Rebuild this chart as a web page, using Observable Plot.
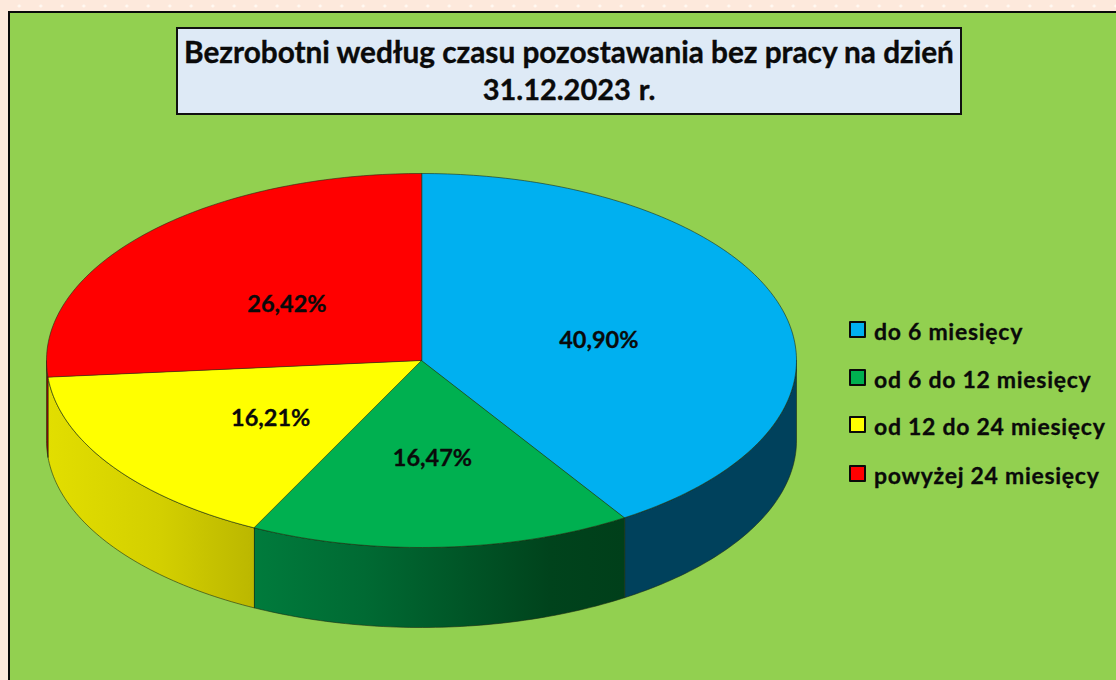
<!DOCTYPE html>
<html lang="pl">
<head>
<meta charset="utf-8">
<script src="https://cdn.jsdelivr.net/npm/d3@7"></script>
<script src="https://cdn.jsdelivr.net/npm/@observablehq/plot@0.6"></script>
<style>
html,body{margin:0;padding:0;width:1116px;height:680px;overflow:hidden}
body{position:relative;font-family:Lato,sans-serif;font-weight:700;color:#0a0a0a;
 background-color:#FDE9DC;
 background-image:radial-gradient(circle 2px,#fff9f3 0,#fff9f3 1px,rgba(255,249,243,0) 2px);
 background-size:21.5px 700px;background-position:8.5px -344px;background-repeat:repeat-x}
#panel{position:absolute;left:8px;top:11px;width:1120px;height:690px;background:#92D050;border:2px solid #0a0a0a}
#chart{position:absolute;left:0;top:0}
#chart svg{background:transparent}
#title{position:absolute;left:176px;top:27px;width:782px;height:84px;background:#DEEAF6;border:2px solid #111;
 text-align:center;font-size:29.8px;letter-spacing:-.03px;line-height:37px;white-space:nowrap;-webkit-text-stroke:.35px #0a0a0a}
#title div:first-child{margin-top:4px}
#title div:last-child{font-size:29px;word-spacing:1px}
#legend div.row{position:absolute;left:849px;height:18px;white-space:nowrap}
#legend .sw{position:absolute;left:0;top:0;width:13px;height:13px;border:2px solid #0a0a0a;border-radius:1px}
#legend .tx{position:absolute;left:25px;top:-4px;font-size:23px;line-height:28px;letter-spacing:.72px;-webkit-text-stroke:.3px #0a0a0a}
</style>
</head>
<body>
<div id="panel"></div>
<div id="chart"></div>
<div id="title"></div>
<div id="legend"></div>
<script>
const titleLines = ["Bezrobotni według czasu pozostawania bez pracy na dzień", "31.12.2023 r."];
const categories = ["do 6 miesięcy", "od 6 do 12 miesięcy", "od 12 do 24 miesięcy", "powyżej 24 miesięcy"];
const shares = [40.90, 16.47, 16.21, 26.42];
const colors = ["#00B0F0", "#00B050", "#FFFF00", "#FF0000"];
const wallStops = [
  [["0%", "#00415C"], ["100%", "#00415C"]],
  [["0%", "#007B3C"], ["30%", "#006A33"], ["80%", "#00431C"], ["100%", "#003F1A"]],
  [["0%", "#E2DE00"], ["55%", "#D3CF00"], ["100%", "#BBB700"]],
  [["0%", "#A00000"], ["100%", "#A00000"]]
];
const legendTops = [321, 369, 416, 465];

const depth = 80 / 187;           // wall height in units of the vertical radius
const labelRadius = 0.49;
const toRad = Math.PI / 180;
const px = (a, r = 1) => r * Math.sin(a * toRad);
const py = (a, r = 1) => r * Math.cos(a * toRad);

let cum = 0;
const slices = shares.map((v, i) => {
  const a0 = cum * 3.6; cum += v; const a1 = cum * 3.6;
  return {i, v, a0, a1, mid: (a0 + a1) / 2, label: v.toFixed(2).replace(".", ",") + "%"};
});
function arc(a0, a1) {
  const n = Math.max(2, Math.ceil(a1 - a0)), out = [];
  for (let k = 0; k <= n; k++) out.push(a0 + (a1 - a0) * k / n);
  return out;
}
const topShape = s => [{x: 0, y: 0}, ...arc(s.a0, s.a1).map(a => ({x: px(a), y: py(a)}))];
const wallShape = s => {
  const lo = Math.max(s.a0, 90), hi = Math.min(s.a1, 270);
  if (hi <= lo) return null;
  const as = arc(lo, hi);
  return [...as.map(a => ({x: px(a), y: py(a)})),
          ...as.slice().reverse().map(a => ({x: px(a), y: py(a) - depth}))];
};
const edge = {stroke: "#1c2a12", strokeOpacity: 0.65, strokeWidth: 0.9, curve: "linear-closed", x: "x", y: "y"};
const wallMarks = slices.filter(wallShape).map(s =>
  Plot.line(wallShape(s), {...edge, fill: `url(#wall${s.i})`}));
const topMarks = slices.map(s => Plot.line(topShape(s), {...edge, fill: colors[s.i]}));

const plot = Plot.plot({
  width: 1116, height: 680, margin: 0,
  x: {domain: [-1, 1], range: [46, 796], axis: null},
  y: {domain: [1, -1], range: [173, 547], axis: null},
  style: {background: "transparent"},
  marks: [
    ...wallMarks,
    ...topMarks,
    Plot.text(slices, {
      x: s => px(s.mid, labelRadius), y: s => py(s.mid, labelRadius), text: "label",
      dx: 1, dy: 6, fontFamily: "Lato", fontWeight: 700, fontSize: 23.5,
      fill: "#0a0a0a", stroke: "#0a0a0a", strokeWidth: 0.3
    })
  ]
});
const defs = d3.select(plot).insert("defs", ":first-child");
wallStops.forEach((stops, i) => {
  const g = defs.append("linearGradient").attr("id", `wall${i}`).attr("x1", 0).attr("x2", 1).attr("y1", 0).attr("y2", 0);
  stops.forEach(([o, c]) => g.append("stop").attr("offset", o).attr("stop-color", c));
});
document.getElementById("chart").append(plot);

document.getElementById("title").innerHTML = titleLines.map(t => `<div>${t}</div>`).join("");
document.getElementById("legend").innerHTML = categories.map((c, i) =>
  `<div class="row" style="top:${legendTops[i]}px"><span class="sw" style="background:${colors[i]}"></span><span class="tx">${c}</span></div>`).join("");
</script>
</body>
</html>
